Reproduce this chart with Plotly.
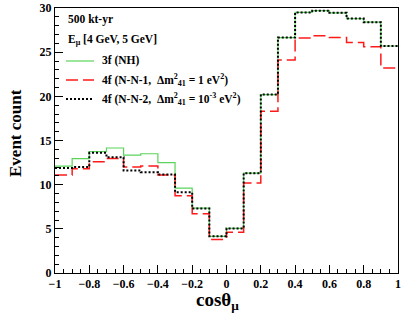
import plotly.graph_objects as go

bin_edges = [round(-1 + 0.1 * i, 2) for i in range(21)]
green_3f = [12.1, 12.95, 13.75, 14.15, 13.35, 13.5, 12.5, 9.6, 7.35, 4.15,
            5.05, 11.3, 20.2, 26.65, 29.5, 29.7, 29.45, 28.8, 28.4, 25.7]
red_4f_1 = [11.1, 11.8, 12.6, 12.95, 12.0, 12.1, 11.1, 8.75, 6.7, 3.8,
            4.6, 10.2, 18.3, 24.1, 26.6, 26.85, 26.65, 26.1, 25.6, 23.2]
black_4f_2 = [11.9, 12.0, 13.6, 13.1, 11.6, 11.4, 11.15, 9.15, 7.3, 4.15,
              5.05, 11.3, 20.2, 26.65, 29.5, 29.7, 29.45, 28.8, 28.4, 25.7]
x_ticks = [-1, -0.8, -0.6, -0.4, -0.2, 0, 0.2, 0.4, 0.6, 0.8, 1]
x_tick_text = ["\u22121", "\u22120.8", "\u22120.6", "\u22120.4", "\u22120.2", "0", "0.2", "0.4", "0.6", "0.8", "1"]
y_ticks = [0, 5, 10, 15, 20, 25, 30]

FONT = "Liberation Serif"
W, H = 407, 315
ML, MR, MT, MB = 55, 9, 8, 42
PW, PH = W - ML - MR, H - MT - MB

def step(vals):
    return list(vals) + [vals[-1]]

def px_x(x):
    return (x - ML) / PW

def px_y(y):
    return (H - MB - y) / PH

green_line = dict(color="#5ad45a", width=1.2)
red_line = dict(color="#ff1a1a", width=1.5, dash="12px,5px")
black_line = dict(color="black", width=2, dash="2px,2px")

fig = go.Figure()
fig.add_trace(go.Scatter(x=bin_edges, y=step(green_3f), mode="lines", line_shape="hv",
                         line=green_line, showlegend=False))
fig.add_trace(go.Scatter(x=bin_edges, y=step(red_4f_1), mode="lines", line_shape="hv",
                         line=red_line, showlegend=False))
fig.add_trace(go.Scatter(x=bin_edges, y=step(black_4f_2), mode="lines", line_shape="hv",
                         line=black_line, showlegend=False))

legend_items = [
    ("3f (NH)", green_line, 61),
    ("4f (N-N-1,  \u0394m<sup>2</sup><sub>41</sub> = 1 eV<sup>2</sup>)", red_line, 80),
    ("4f (N-N-2,  \u0394m<sup>2</sup><sub>41</sub> = 10<sup>-3</sup> eV<sup>2</sup>)", black_line, 99),
]
for text, ln, ypx in legend_items:
    fig.add_shape(type="line", xref="paper", yref="paper",
                  x0=px_x(66), x1=px_x(94), y0=px_y(ypx), y1=px_y(ypx), line=ln)
    fig.add_annotation(xref="paper", yref="paper", x=px_x(100), y=px_y(ypx),
                       text=text, showarrow=False, xanchor="left", yanchor="middle",
                       font=dict(family=FONT, size=11.5, color="black", weight="bold"))
for text, ypx in [("500 kt-yr", 20), ("E<sub>\u03bc</sub> [4 GeV, 5 GeV]", 40)]:
    fig.add_annotation(xref="paper", yref="paper", x=px_x(66), y=px_y(ypx),
                       text=text, showarrow=False, xanchor="left", yanchor="middle",
                       font=dict(family=FONT, size=11.5, color="black", weight="bold"))

# axis titles
fig.add_annotation(xref="paper", yref="paper", x=px_x(217), y=px_y(301),
                   text="cos\u03b8<sub>\u03bc</sub>", showarrow=False, xanchor="center", yanchor="middle",
                   font=dict(family=FONT, size=19, color="black", weight="bold"))
fig.add_annotation(xref="paper", yref="paper", x=px_x(15), y=px_y(133),
                   text="Event count", showarrow=False, xanchor="center", yanchor="middle", textangle=-90,
                   font=dict(family=FONT, size=17, color="black", weight="bold"))

fig.update_layout(
    width=W, height=H,
    margin=dict(l=ML, r=MR, t=MT, b=MB, autoexpand=False),
    paper_bgcolor="white", plot_bgcolor="white",
    font=dict(family=FONT, color="black"),
)
fig.update_xaxes(range=[-1, 1], tickvals=x_ticks, ticktext=x_tick_text, automargin=False,
                 ticks="inside", ticklen=8, tickcolor="black", tickwidth=1,
                 minor=dict(ticks="inside", dtick=0.05, tick0=0, ticklen=4, tickcolor="black"),
                 showline=True, linecolor="black", linewidth=1, mirror=True,
                 showgrid=False, zeroline=False,
                 tickfont=dict(family=FONT, size=12, weight="bold"))
fig.update_yaxes(range=[0, 30], tickvals=y_ticks, automargin=False,
                 ticks="inside", ticklen=8, tickcolor="black", tickwidth=1,
                 minor=dict(ticks="inside", dtick=1, tick0=0, ticklen=4, tickcolor="black"),
                 showline=True, linecolor="black", linewidth=1, mirror=True,
                 showgrid=False, zeroline=False,
                 tickfont=dict(family=FONT, size=12, weight="bold"))

fig.write_html(
    "out.html",
    config={"displayModeBar": False},
    post_script="document.body.style.margin='0';document.body.style.overflow='hidden';"
                "document.documentElement.style.overflow='hidden';",
)
